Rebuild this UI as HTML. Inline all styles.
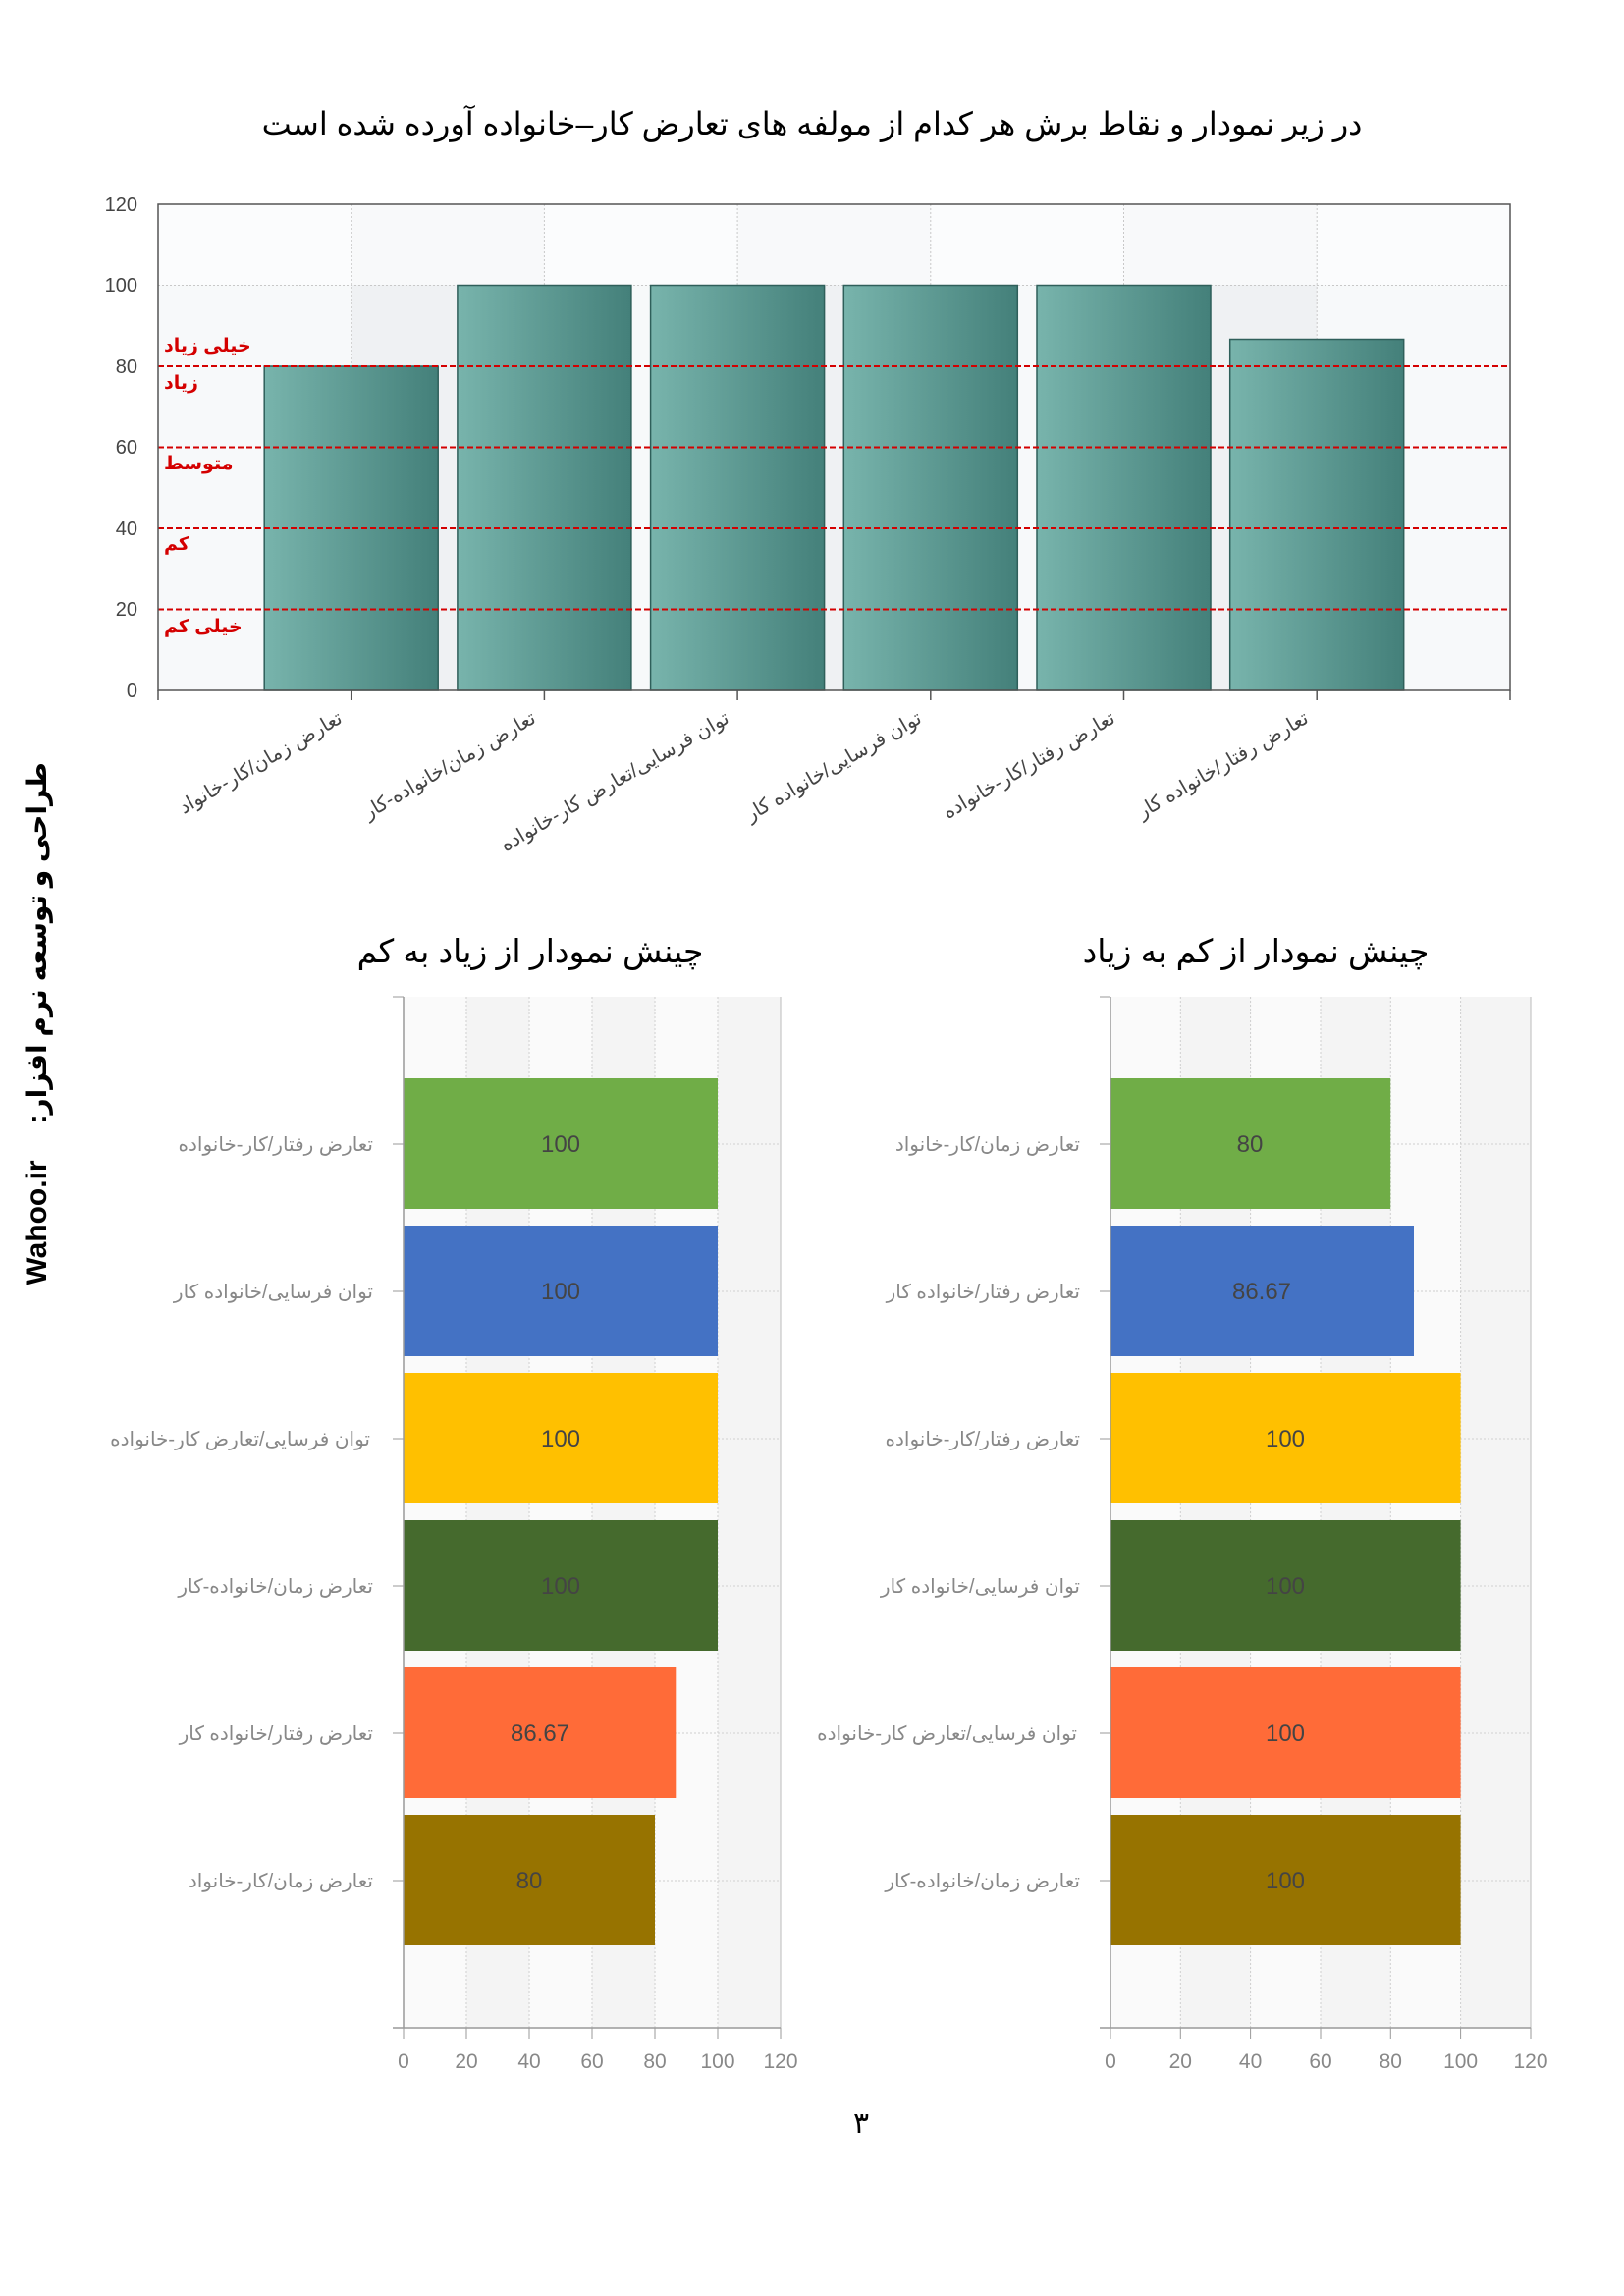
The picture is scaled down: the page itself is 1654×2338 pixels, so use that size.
<!DOCTYPE html>
<html><head><meta charset="utf-8">
<style>
html,body{margin:0;padding:0;background:#fff;}
svg{display:block;}
text{font-family:"Liberation Sans","Noto Sans CJK SC","DejaVu Sans",sans-serif;}
</style></head>
<body>
<svg width="1654" height="2338" viewBox="0 0 1654 2338" xmlns="http://www.w3.org/2000/svg">
<defs>
<linearGradient id="tg" x1="0" x2="1" y1="0" y2="0">
<stop offset="0" stop-color="#78b4ac"/><stop offset="1" stop-color="#44807a"/>
</linearGradient>
</defs>
<text x="827" y="137" font-size="32" text-anchor="middle" fill="#000" direction="rtl">در زیر نمودار و نقاط برش هر کدام از مولفه های تعارض کار–خانواده آورده شده است</text>

<g>
<rect x="161" y="208" width="1377" height="495" fill="#f7f9fa"/>
<rect x="357.7" y="208" width="196.7" height="495" fill="#eff1f3"/>
<rect x="751.1" y="208" width="196.7" height="495" fill="#eff1f3"/>
<rect x="1144.5" y="208" width="196.7" height="495" fill="#eff1f3"/>
<rect x="161" y="208" width="1377" height="82" fill="#ffffff" opacity="0.55"/>
</g>
<g stroke="#c8c8c8" stroke-dasharray="2,2" stroke-width="1">
<line x1="357.7" y1="208" x2="357.7" y2="703"/><line x1="554.4" y1="208" x2="554.4" y2="703"/>
<line x1="751.1" y1="208" x2="751.1" y2="703"/><line x1="947.8" y1="208" x2="947.8" y2="703"/>
<line x1="1144.5" y1="208" x2="1144.5" y2="703"/><line x1="1341.2" y1="208" x2="1341.2" y2="703"/>
<line x1="161" y1="290.5" x2="1538" y2="290.5"/>
</g>
<g fill="url(#tg)" stroke="#2f5f5a" stroke-width="1.5">
<rect x="269.2" y="373" width="177" height="330"/>
<rect x="465.9" y="290.5" width="177" height="412.5"/>
<rect x="662.6" y="290.5" width="177" height="412.5"/>
<rect x="859.3" y="290.5" width="177" height="412.5"/>
<rect x="1056" y="290.5" width="177" height="412.5"/>
<rect x="1252.7" y="345.5" width="177" height="357.5"/>
</g>
<g stroke="#d40000" stroke-width="2" stroke-dasharray="6,3">
<line x1="161" y1="373" x2="1538" y2="373"/>
<line x1="161" y1="455.5" x2="1538" y2="455.5"/>
<line x1="161" y1="538" x2="1538" y2="538"/>
<line x1="161" y1="620.5" x2="1538" y2="620.5"/>
</g>
<rect x="161" y="208" width="1377" height="495" fill="none" stroke="#555" stroke-width="1.5"/>
<g stroke="#555" stroke-width="1.5">
<line x1="161" y1="703" x2="161" y2="713"/><line x1="357.7" y1="703" x2="357.7" y2="713"/>
<line x1="554.4" y1="703" x2="554.4" y2="713"/><line x1="751.1" y1="703" x2="751.1" y2="713"/>
<line x1="947.8" y1="703" x2="947.8" y2="713"/><line x1="1144.5" y1="703" x2="1144.5" y2="713"/>
<line x1="1341.2" y1="703" x2="1341.2" y2="713"/><line x1="1538" y1="703" x2="1538" y2="713"/>
</g>
<g font-size="20" fill="#444" text-anchor="end">
<text x="140" y="710">0</text><text x="140" y="627">20</text><text x="140" y="545">40</text>
<text x="140" y="462">60</text><text x="140" y="380">80</text><text x="140" y="297">100</text><text x="140" y="215">120</text>
</g>
<g font-size="19" fill="#d40000" font-weight="600">
<text x="167" y="358" text-anchor="end" direction="rtl">خیلی زیاد</text>
<text x="167" y="396" text-anchor="end" direction="rtl">زیاد</text>
<text x="167" y="478" text-anchor="end" direction="rtl">متوسط</text>
<text x="167" y="560" text-anchor="end" direction="rtl">کم</text>
<text x="167" y="644" text-anchor="end" direction="rtl">خیلی کم</text>
</g>
<g font-size="20" fill="#444" text-anchor="end">
<text transform="translate(350,735) rotate(-30)">تعارض زمان/کار-خانواد</text>
<text transform="translate(547,735) rotate(-30)">تعارض زمان/خانواده-کار</text>
<text transform="translate(744,735) rotate(-30)">توان فرسایی/تعارض کار-خانواده</text>
<text transform="translate(940,735) rotate(-30)">توان فرسایی/خانواده کار</text>
<text transform="translate(1137,735) rotate(-30)">تعارض رفتار/کار-خانواده</text>
<text transform="translate(1334,735) rotate(-30)">تعارض رفتار/خانواده کار</text>
</g>

<text transform="translate(47,1245) rotate(-90)" font-size="30" font-weight="bold" text-anchor="middle" fill="#000">Wahoo.ir</text>
<text transform="translate(47,960) rotate(-90)" font-size="28" font-weight="bold" text-anchor="middle" fill="#000" direction="rtl">طراحی و توسعه نرم افزار:</text>

<text x="540" y="980" font-size="33" text-anchor="middle" fill="#000" direction="rtl">چینش نمودار از زیاد به کم</text>
<text x="1279" y="980" font-size="33" text-anchor="middle" fill="#000" direction="rtl">چینش نمودار از کم به زیاد</text>

<g>
<rect x="411" y="1015" width="384" height="1050" fill="#fafafa"/>
<rect x="475" y="1015" width="64" height="1050" fill="#f4f4f4"/>
<rect x="603" y="1015" width="64" height="1050" fill="#f4f4f4"/>
<rect x="731" y="1015" width="64" height="1050" fill="#f4f4f4"/>
<g stroke="#cfcfcf" stroke-dasharray="2,2">
<line x1="475" y1="1015" x2="475" y2="2065"/><line x1="539" y1="1015" x2="539" y2="2065"/>
<line x1="603" y1="1015" x2="603" y2="2065"/><line x1="667" y1="1015" x2="667" y2="2065"/>
<line x1="731" y1="1015" x2="731" y2="2065"/>
<line x1="411" y1="1165" x2="795" y2="1165"/><line x1="411" y1="1315" x2="795" y2="1315"/>
<line x1="411" y1="1465" x2="795" y2="1465"/><line x1="411" y1="1615" x2="795" y2="1615"/>
<line x1="411" y1="1765" x2="795" y2="1765"/><line x1="411" y1="1915" x2="795" y2="1915"/>
</g>
<line x1="795" y1="1015" x2="795" y2="2065" stroke="#bbb"/>
<line x1="400" y1="1015" x2="411" y2="1015" stroke="#999"/>
<rect x="411" y="1098" width="320" height="133" fill="#70ad47"/>
<rect x="411" y="1248" width="320" height="133" fill="#4472c4"/>
<rect x="411" y="1398" width="320" height="133" fill="#ffc000"/>
<rect x="411" y="1548" width="320" height="133" fill="#456a2d"/>
<rect x="411" y="1698" width="277.3" height="133" fill="#ff6b38"/>
<rect x="411" y="1848" width="256" height="133" fill="#977300"/>
<line x1="411" y1="1015" x2="411" y2="2065" stroke="#999" stroke-width="1.5"/>
<line x1="400" y1="2065" x2="795" y2="2065" stroke="#999" stroke-width="1.5"/>
<g stroke="#999">
<line x1="400" y1="1165" x2="411" y2="1165"/><line x1="400" y1="1315" x2="411" y2="1315"/>
<line x1="400" y1="1465" x2="411" y2="1465"/><line x1="400" y1="1615" x2="411" y2="1615"/>
<line x1="400" y1="1765" x2="411" y2="1765"/><line x1="400" y1="1915" x2="411" y2="1915"/>
<line x1="411" y1="2065" x2="411" y2="2076"/><line x1="475" y1="2065" x2="475" y2="2076"/>
<line x1="539" y1="2065" x2="539" y2="2076"/><line x1="603" y1="2065" x2="603" y2="2076"/>
<line x1="667" y1="2065" x2="667" y2="2076"/><line x1="731" y1="2065" x2="731" y2="2076"/>
<line x1="795" y1="2065" x2="795" y2="2076"/>
</g>
<g font-size="24" fill="#444" text-anchor="middle">
<text x="571" y="1173">100</text><text x="571" y="1323">100</text><text x="571" y="1473">100</text>
<text x="571" y="1623">100</text><text x="550" y="1773">86.67</text><text x="539" y="1923">80</text>
</g>
<g font-size="20" fill="#888" text-anchor="end">
<text x="380" y="1172">تعارض رفتار/کار-خانواده</text>
<text x="380" y="1322">توان فرسایی/خانواده کار</text>
<text x="377" y="1472">توان فرسایی/تعارض کار-خانواده</text>
<text x="380" y="1622">تعارض زمان/خانواده-کار</text>
<text x="380" y="1772">تعارض رفتار/خانواده کار</text>
<text x="380" y="1922">تعارض زمان/کار-خانواد</text>
</g>
<g font-size="21" fill="#888" text-anchor="middle">
<text x="411" y="2106">0</text><text x="475" y="2106">20</text><text x="539" y="2106">40</text>
<text x="603" y="2106">60</text><text x="667" y="2106">80</text><text x="731" y="2106">100</text><text x="795" y="2106">120</text>
</g>
</g>

<g>
<rect x="1131" y="1015" width="428" height="1050" fill="#fafafa"/>
<rect x="1202.3" y="1015" width="71.3" height="1050" fill="#f4f4f4"/>
<rect x="1345" y="1015" width="71.3" height="1050" fill="#f4f4f4"/>
<rect x="1487.6" y="1015" width="71.3" height="1050" fill="#f4f4f4"/>
<g stroke="#cfcfcf" stroke-dasharray="2,2">
<line x1="1202.3" y1="1015" x2="1202.3" y2="2065"/><line x1="1273.6" y1="1015" x2="1273.6" y2="2065"/>
<line x1="1345" y1="1015" x2="1345" y2="2065"/><line x1="1416.3" y1="1015" x2="1416.3" y2="2065"/>
<line x1="1487.6" y1="1015" x2="1487.6" y2="2065"/>
<line x1="1131" y1="1165" x2="1559" y2="1165"/><line x1="1131" y1="1315" x2="1559" y2="1315"/>
<line x1="1131" y1="1465" x2="1559" y2="1465"/><line x1="1131" y1="1615" x2="1559" y2="1615"/>
<line x1="1131" y1="1765" x2="1559" y2="1765"/><line x1="1131" y1="1915" x2="1559" y2="1915"/>
</g>
<line x1="1559" y1="1015" x2="1559" y2="2065" stroke="#bbb"/>
<line x1="1120" y1="1015" x2="1131" y2="1015" stroke="#999"/>
<rect x="1131" y="1098" width="285.2" height="133" fill="#70ad47"/>
<rect x="1131" y="1248" width="309" height="133" fill="#4472c4"/>
<rect x="1131" y="1398" width="356.6" height="133" fill="#ffc000"/>
<rect x="1131" y="1548" width="356.6" height="133" fill="#456a2d"/>
<rect x="1131" y="1698" width="356.6" height="133" fill="#ff6b38"/>
<rect x="1131" y="1848" width="356.6" height="133" fill="#977300"/>
<line x1="1131" y1="1015" x2="1131" y2="2065" stroke="#999" stroke-width="1.5"/>
<line x1="1120" y1="2065" x2="1559" y2="2065" stroke="#999" stroke-width="1.5"/>
<g stroke="#999">
<line x1="1120" y1="1165" x2="1131" y2="1165"/><line x1="1120" y1="1315" x2="1131" y2="1315"/>
<line x1="1120" y1="1465" x2="1131" y2="1465"/><line x1="1120" y1="1615" x2="1131" y2="1615"/>
<line x1="1120" y1="1765" x2="1131" y2="1765"/><line x1="1120" y1="1915" x2="1131" y2="1915"/>
<line x1="1131" y1="2065" x2="1131" y2="2076"/><line x1="1202.3" y1="2065" x2="1202.3" y2="2076"/>
<line x1="1273.6" y1="2065" x2="1273.6" y2="2076"/><line x1="1345" y1="2065" x2="1345" y2="2076"/>
<line x1="1416.3" y1="2065" x2="1416.3" y2="2076"/><line x1="1487.6" y1="2065" x2="1487.6" y2="2076"/>
<line x1="1559" y1="2065" x2="1559" y2="2076"/>
</g>
<g font-size="24" fill="#444" text-anchor="middle">
<text x="1273" y="1173">80</text><text x="1285" y="1323">86.67</text><text x="1309" y="1473">100</text>
<text x="1309" y="1623">100</text><text x="1309" y="1773">100</text><text x="1309" y="1923">100</text>
</g>
<g font-size="20" fill="#888" text-anchor="end">
<text x="1100" y="1172">تعارض زمان/کار-خانواد</text>
<text x="1100" y="1322">تعارض رفتار/خانواده کار</text>
<text x="1100" y="1472">تعارض رفتار/کار-خانواده</text>
<text x="1100" y="1622">توان فرسایی/خانواده کار</text>
<text x="1097" y="1772">توان فرسایی/تعارض کار-خانواده</text>
<text x="1100" y="1922">تعارض زمان/خانواده-کار</text>
</g>
<g font-size="21" fill="#888" text-anchor="middle">
<text x="1131" y="2106">0</text><text x="1202.3" y="2106">20</text><text x="1273.6" y="2106">40</text>
<text x="1345" y="2106">60</text><text x="1416.3" y="2106">80</text><text x="1487.6" y="2106">100</text><text x="1559" y="2106">120</text>
</g>
</g>

<text x="877" y="2172" font-size="30" text-anchor="middle" fill="#000">٣</text>
</svg>
</body></html>
